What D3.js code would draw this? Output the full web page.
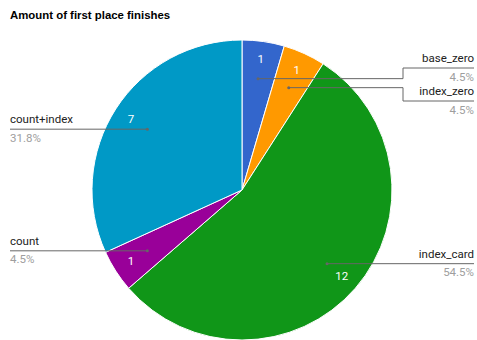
<!DOCTYPE html>
<html>
<head>
<meta charset="utf-8">
<script src="https://cdn.jsdelivr.net/npm/d3@7"></script>
<style>
  html, body { margin: 0; padding: 0; background: #fff; }
  svg { display: block; }
</style>
</head>
<body>
<svg id="chart" width="477" height="340"></svg>
<script>
// Slices, clockwise from 12 o'clock
const categories = ["base_zero", "index_zero", "index_card", "count", "count+index"];
const finishes   = [1, 1, 12, 1, 7];
const colors     = ["#3366cc", "#ff9900", "#109618", "#990099", "#0099c6"];
const titleText  = "Amount of first place finishes";

const cx = 242, cy = 190, R = 150;
const FONT = "Roboto, Arial, sans-serif";

const svg = d3.select("#chart");

svg.append("text")
  .attr("x", 10).attr("y", 19)
  .attr("font-family", "'Liberation Sans', Arial, sans-serif")
  .attr("font-size", 11.4).attr("font-weight", "bold")
  .attr("fill", "#000")
  .text(titleText);

const data = categories.map((c, i) => ({ name: c, value: finishes[i], color: colors[i] }));
const total = d3.sum(finishes);

const pie = d3.pie().value(d => d.value).sort(null);
const arcs = pie(data);
const arc = d3.arc().innerRadius(0).outerRadius(R);
const labelArc = d3.arc().innerRadius(R * 0.88).outerRadius(R * 0.88);
const anchorArc = d3.arc().innerRadius(R * 0.75).outerRadius(R * 0.75);

const g = svg.append("g").attr("transform", `translate(${cx},${cy})`);

g.selectAll("path.slice").data(arcs).enter().append("path")
  .attr("class", "slice")
  .attr("d", arc)
  .attr("fill", d => d.data.color)
  .attr("stroke", "#fff").attr("stroke-width", 1);

// value labels inside slices
g.selectAll("text.val").data(arcs).enter().append("text")
  .attr("class", "val")
  .attr("transform", d => `translate(${labelArc.centroid(d)})`)
  .attr("text-anchor", "middle").attr("dy", "0.35em")
  .attr("font-family", FONT).attr("font-size", 11.5)
  .attr("fill", "#fff")
  .text(d => d.data.value);

// legend callouts: which side, and (for the stacked pair) the level the leader steps to
const callouts = {
  "base_zero":   { side: "right", lineY: 68,  elbowX: 403 },
  "index_zero":  { side: "right", lineY: 101, elbowX: 403 },
  "index_card":  { side: "right" },
  "count":       { side: "left" },
  "count+index": { side: "left" }
};

const fmt = d3.format(".1%");
const leaders = svg.append("g");
arcs.forEach(d => {
  const c = callouts[d.data.name];
  const [ax, ay] = anchorArc.centroid(d);
  const px = cx + ax, py = cy + ay;
  const leftX = 10, rightX = 474;
  let pts, lineY = py;
  if (c.side === "left") {
    pts = [[px, py], [leftX, py]];
  } else if (c.elbowX != null) {
    lineY = c.lineY;
    pts = [[px, py], [c.elbowX, py], [c.elbowX, lineY], [rightX, lineY]];
  } else {
    pts = [[px, py], [rightX, py]];
  }
  leaders.append("path")
    .attr("d", d3.line()(pts))
    .attr("fill", "none").attr("stroke", "#666").attr("stroke-width", 1);
  leaders.append("circle").attr("cx", px).attr("cy", py).attr("r", 1.5).attr("fill", "#666");

  const tx = c.side === "left" ? leftX : rightX;
  const anchor = c.side === "left" ? "start" : "end";
  leaders.append("text")
    .attr("x", tx).attr("y", lineY - 6)
    .attr("text-anchor", anchor)
    .attr("font-family", FONT).attr("font-size", 11.5)
    .attr("fill", "#222")
    .text(d.data.name);
  leaders.append("text")
    .attr("x", tx).attr("y", lineY + 12.5)
    .attr("text-anchor", anchor)
    .attr("font-family", FONT).attr("font-size", 11.5)
    .attr("fill", "#9e9e9e")
    .text(fmt(d.data.value / total));
});
</script>
</body>
</html>
